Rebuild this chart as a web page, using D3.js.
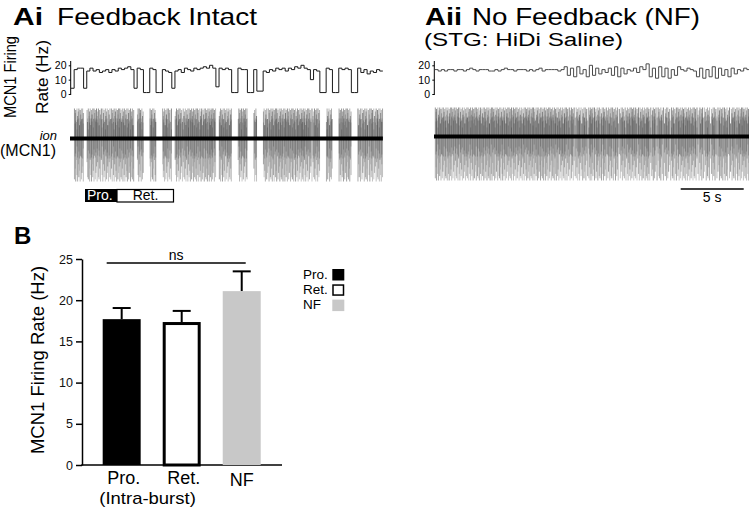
<!DOCTYPE html>
<html><head><meta charset="utf-8">
<script src="https://cdn.jsdelivr.net/npm/d3@7"></script>
<style>body{margin:0;background:#fff} svg{display:block} text{font-family:"Liberation Sans",Arial,Helvetica,sans-serif}</style>
</head><body>
<script>
// ---------------- DATA ----------------
const binSec = 0.25; // rate bin width (s)
// Ai: MCN1 firing rate, feedback intact (Hz per 0.25 s bin)
const rateIntact = [4,17,18,18,4,16,18,16,17,15,
 16,17,15,17,16,18,17,18,19,17,
 4,18,17,1,1,18,17,1,1,17,
 16,15,4,16,17,15,18,17,16,18,
 17,18,19,18,20,18,5,18,17,18,
 17,1,1,18,17,17,1,1,17,2,
 2,16,15,17,16,18,17,18,16,18,
 17,19,18,20,18,17,10,17,16,1,
 1,18,17,1,1,18,17,18,17,1,
 1,18,15,17,14,16,15,17,16];
// Aii: MCN1 firing rate, no feedback (Hz per 0.25 s bin)
const rateNF = [17,16,17,16,17,17,16,17,17,16, 17,18,17,16,17,17,17,16,16,17,
 16,17,18,17,17,16,17,17,17,16, 17,16,17,18,16,17,17,17,17,16, 17,
 19,13,18,12,19,14,17,12,20,13, 18,14,17,15,18,13,19,12,18,14, 17,16,18,15,19,17,
 21,
 12,18,11,19,12,18,11,17,13,19,
 17,16,18,17,16,
 12,18,11,17,12,19,11,18,13,17,12,18,14,
 17,16,18,17];
const rateTicks = [0, 10, 20];
const scaleBarSec = 5;
// extracellular spike waveform amplitude patterns (relative, cycled)
const spikeUp = [1.0, 0.85, 0.95, 0.55, 1.0, 0.75, 0.9, 1.0, 0.45, 0.95, 0.8, 1.0, 0.65];
const spikeDown = [0.95, 0.7, 1.0, 0.5, 0.85, 1.0, 0.6, 0.9, 0.75, 1.0, 0.4, 0.95, 0.8, 0.65, 1.0, 0.55, 0.9];
const shadeUp = ["#6a6a6a", "#888888", "#555555", "#7a7a7a", "#9a9a9a", "#606060", "#8f8f8f"];
const shadeDown = ["#8a8a8a", "#a5a5a5", "#777777", "#b0b0b0", "#999999"];
// B: bar chart
const barCategories = ["Pro.", "Ret.", "NF"];
const barMeans = [17.7, 17.35, 21.1];
const barErrors = [1.35, 1.35, 2.4];
const barTicks = [0, 5, 10, 15, 20, 25];
const barFills = ["#000000", "#ffffff", "#c8c8c8"];
const legendLabels = ["Pro.", "Ret.", "NF"];

// ---------------- DRAW ----------------
const W = 749, H = 507;
const svg = d3.select("body").append("svg").attr("width", W).attr("height", H);

function txt(x, y, s, o = {}) {
  const t = svg.append("text").attr("x", x).attr("y", y).text(s)
    .attr("font-size", o.size || 12)
    .attr("font-weight", o.weight || "normal")
    .attr("font-style", o.style || "normal")
    .attr("text-anchor", o.anchor || "start")
    .attr("fill", o.fill || "#000");
  if (o.len) t.attr("textLength", o.len).attr("lengthAdjust", "spacingAndGlyphs");
  if (o.rotate) t.attr("transform", `rotate(${o.rotate},${x},${y})`);
  return t;
}

// titles
txt(13, 24.5, "Ai", {size: 24, weight: "bold", len: 30});
txt(57, 24.5, "Feedback Intact", {size: 24, len: 200});
txt(425, 24.5, "Aii", {size: 24, weight: "bold", len: 37});
txt(472, 24.5, "No Feedback (NF)", {size: 24, len: 228});
txt(424, 45.5, "(STG: HiDi Saline)", {size: 18, len: 199});

const pxPerSec = 12.6;
function drawPanel(rate, x0, rawCenter, upMax, downMax, gapThresh, axisX, labelX, rateStroke) {
  const T = rate.length * binSec;
  const x = d3.scaleLinear().domain([0, T]).range([x0, x0 + T * pxPerSec]);
  const y = d3.scaleLinear().domain([0, 20]).range([94, 65.3]);

  svg.append("line").attr("x1", axisX).attr("x2", axisX).attr("y1", 61).attr("y2", 95)
    .attr("stroke", "#000").attr("stroke-width", 1);
  const ax = svg.append("g").attr("transform", `translate(${axisX},0)`)
    .call(d3.axisLeft(y).tickValues(rateTicks).tickSize(2).tickPadding(axisX - labelX - 2).tickFormat(d3.format("d")));
  ax.select(".domain").remove();
  ax.selectAll("text").attr("font-size", 10.5).attr("font-family", "Liberation Sans, Arial, sans-serif").attr("fill", "#000");
  ax.selectAll("line").attr("stroke", "#000");

  const spikes = [];
  let k = 0;
  rate.forEach((r, i) => {
    if (r < gapThresh) return;
    const n = Math.round(r / 3.5);
    for (let j = 0; j < n; j++) { spikes.push({t: (i + (j + 0.5) / n) * binSec, k: k++}); }
  });
  const g = svg.append("g");
  g.selectAll("line.dn").data(spikes).join("line").attr("class", "dn")
    .attr("x1", d => x(d.t)).attr("x2", d => x(d.t))
    .attr("y1", rawCenter)
    .attr("y2", d => rawCenter + downMax * spikeDown[d.k % spikeDown.length])
    .attr("stroke", d => shadeDown[d.k % shadeDown.length]).attr("stroke-width", 0.7);
  g.selectAll("line.up").data(spikes).join("line").attr("class", "up")
    .attr("x1", d => x(d.t)).attr("x2", d => x(d.t))
    .attr("y1", d => rawCenter - upMax * spikeUp[d.k % spikeUp.length])
    .attr("y2", rawCenter)
    .attr("stroke", d => shadeUp[d.k % shadeUp.length]).attr("stroke-width", 0.7);
  g.selectAll("line.core").data(spikes.filter(d => d.k % 3 !== 0)).join("line").attr("class", "core")
    .attr("x1", d => x(d.t)).attr("x2", d => x(d.t))
    .attr("y1", d => rawCenter - 20 * spikeUp[(d.k + 4) % spikeUp.length])
    .attr("y2", d => rawCenter + 20 * spikeDown[(d.k + 6) % spikeDown.length])
    .attr("stroke", "#1e1e1e").attr("stroke-opacity", 0.3).attr("stroke-width", 0.7);
  g.append("rect").attr("x", x(0) - 1).attr("width", Math.min(x(T), W) - x(0) + 1)
    .attr("y", rawCenter - 2).attr("height", 4).attr("fill", "#000");

  const pts = rate.map((v, i) => [i * binSec, v]);
  pts.push([T, rate[rate.length - 1]]);
  svg.append("path").datum(pts)
    .attr("d", d3.line().x(d => x(d[0])).y(d => y(d[1])).curve(d3.curveStepAfter))
    .attr("fill", "none").attr("stroke", rateStroke).attr("stroke-width", 1);
  return x;
}

const xA = drawPanel(rateIntact, 71, 138.5, 30, 43, 6, 70.7, 66.5, "#1a1a1a");
const xB = drawPanel(rateNF, 435, 136.5, 29, 44, 0, 434.3, 430, "#4a4a4a");

// Ai labels
txt(16, 77, "MCN1 Firing", {size: 17, anchor: "middle", rotate: -90, len: 82});
txt(48, 77, "Rate (Hz)", {size: 17, anchor: "middle", rotate: -90, len: 74});
txt(57, 140, "ion", {size: 13, style: "italic", anchor: "end"});
txt(0, 156, "(MCN1)", {size: 16});

// Pro./Ret. phase box
svg.append("rect").attr("x", 85).attr("y", 189).attr("width", 32).attr("height", 13).attr("fill", "#000");
svg.append("rect").attr("x", 117).attr("y", 189.5).attr("width", 56.5).attr("height", 12.5)
  .attr("fill", "#fff").attr("stroke", "#000").attr("stroke-width", 1.2);
txt(87, 200, "Pro.", {size: 14, fill: "#fff"});
txt(145.5, 200, "Ret.", {size: 14, anchor: "middle"});

// scale bar
const sb0 = rateNF.length * binSec - 0.5 - scaleBarSec;
svg.append("line").attr("x1", xB(sb0)).attr("x2", xB(sb0 + scaleBarSec)).attr("y1", 189).attr("y2", 189)
  .attr("stroke", "#000").attr("stroke-width", 1.5);
txt((xB(sb0) + xB(sb0 + scaleBarSec)) / 2, 202, "5 s", {size: 14, anchor: "middle"});

// ---------------- PANEL B ----------------
txt(14, 244, "B", {size: 24, weight: "bold"});
const yb = d3.scaleLinear().domain([0, 25]).range([465, 259]);
const xb = d3.scaleBand().domain(barCategories).range([91.7, 271.7]).paddingInner(0.367).paddingOuter(0.183);
const bw = xb.bandwidth();

const yax = svg.append("g").attr("transform", "translate(82,0)")
  .call(d3.axisLeft(yb).tickValues(barTicks).tickSize(6).tickSizeOuter(0).tickPadding(3));
yax.select(".domain").attr("stroke", "#000").attr("stroke-width", 1.5);
yax.selectAll(".tick line").attr("stroke", "#000").attr("stroke-width", 1.5);
yax.selectAll("text").attr("font-size", 12.5).attr("font-family", "Liberation Sans, Arial, sans-serif").attr("fill", "#111");
svg.append("line").attr("x1", 81.25).attr("x2", 282).attr("y1", yb(0)).attr("y2", yb(0))
  .attr("stroke", "#000").attr("stroke-width", 1.5);

txt(43.5, 360, "MCN1 Firing Rate (Hz)", {size: 18.5, anchor: "middle", rotate: -90});

barCategories.forEach((c, i) => {
  const x0 = xb(c), m = barMeans[i], e = barErrors[i], cx = x0 + bw / 2;
  svg.append("line").attr("x1", cx).attr("x2", cx).attr("y1", yb(m)).attr("y2", yb(m + e))
    .attr("stroke", "#000").attr("stroke-width", 2);
  svg.append("line").attr("x1", cx - 9).attr("x2", cx + 9).attr("y1", yb(m + e)).attr("y2", yb(m + e))
    .attr("stroke", "#000").attr("stroke-width", 2);
  if (barFills[i] === "#ffffff") {
    svg.append("rect").attr("x", x0 + 1.5).attr("width", bw - 3).attr("y", yb(m) + 1.5)
      .attr("height", yb(0) - yb(m) - 1.5).attr("fill", "#fff").attr("stroke", "#000").attr("stroke-width", 3);
  } else {
    svg.append("rect").attr("x", x0).attr("width", bw).attr("y", yb(m))
      .attr("height", yb(0) - yb(m)).attr("fill", barFills[i]);
  }
});

// x labels
txt(xb("Pro.") + bw / 2 + 2, 484, "Pro.", {size: 18, anchor: "middle"});
txt(99.3, 503.5, "(Intra-burst)", {size: 17, len: 96.5});
txt(xb("Ret.") + bw / 2 + 2, 484, "Ret.", {size: 18, anchor: "middle"});
txt(xb("NF") + bw / 2, 486, "NF", {size: 18, anchor: "middle"});

// significance
svg.append("line").attr("x1", xb("Pro.") + 4).attr("x2", xb("NF") + bw - 15)
  .attr("y1", yb(24.5)).attr("y2", yb(24.5)).attr("stroke", "#000").attr("stroke-width", 1.5);
txt((xb("Pro.") + 4 + xb("NF") + bw - 15) / 2, 259.5, "ns", {size: 14, anchor: "middle"});

// legend
legendLabels.forEach((l, i) => {
  const yy = 269 + i * 15.3;
  txt(303, yy + 9.5, l, {size: 13.5});
  if (barFills[i] === "#ffffff") {
    svg.append("rect").attr("x", 333).attr("y", yy + 0.75).attr("width", 10.5).attr("height", 10)
      .attr("fill", "#fff").attr("stroke", "#000").attr("stroke-width", 1.5);
  } else {
    svg.append("rect").attr("x", 332.3).attr("y", yy).attr("width", 12).attr("height", 11.5).attr("fill", barFills[i]);
  }
});
</script>
</body></html>
